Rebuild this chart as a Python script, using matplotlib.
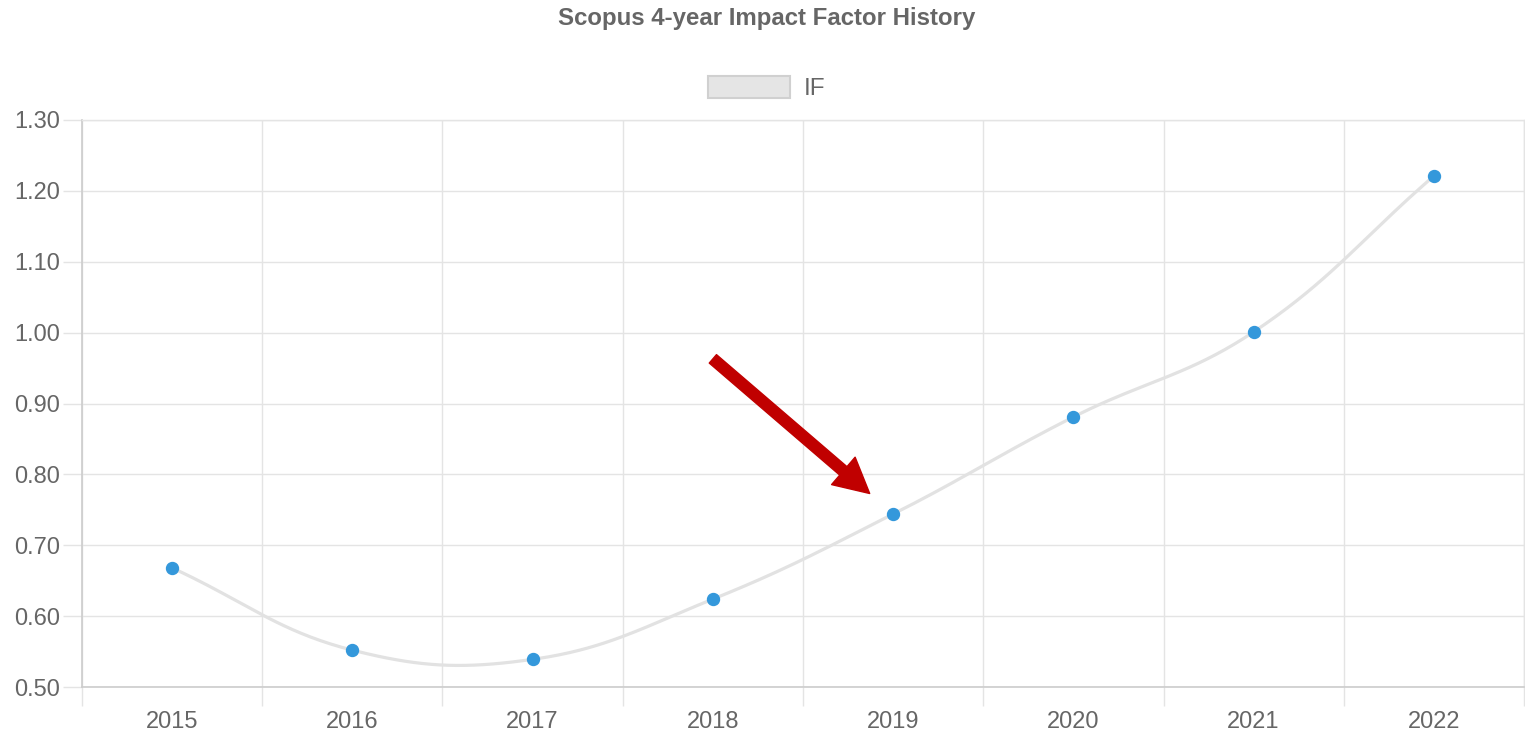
import numpy as np
import matplotlib
matplotlib.use('Agg')
import matplotlib.pyplot as plt
from matplotlib.patches import Patch

# data
years = ['2015', '2016', '2017', '2018', '2019', '2020', '2021', '2022']
impact = [0.668, 0.552, 0.539, 0.624, 0.744, 0.881, 1.001, 1.221]
y_ticks = [0.50, 0.60, 0.70, 0.80, 0.90, 1.00, 1.10, 1.20, 1.30]

# red call-out arrow (category index, value)
arrow_tail = (3.0, 0.963)
arrow_tip = (3.87, 0.773)

plt.rcParams['font.family'] = ['Liberation Sans', 'DejaVu Sans']
text_grey = '#666666'
grid_grey = '#e4e4e4'
axis_grey = '#cccccc'

W, H = 1525, 734
fig = plt.figure(figsize=(W / 100, H / 100), dpi=100)
ax = fig.add_axes([82 / W, 1 - 687 / H, (1524 - 82) / W, (687 - 120) / H])

x = np.arange(len(years))
ax.set_xlim(-0.5, len(years) - 0.5)
ax.set_ylim(y_ticks[0], y_ticks[-1])


def chartjs_spline(ax, xs, ys, tension=0.4, n=40):
    # same bezier control points as Chart.js line tension, done in pixel space
    pts = ax.transData.transform(np.column_stack([xs, ys]))
    ctrl = []
    for i in range(len(pts)):
        prev = pts[max(i - 1, 0)]
        cur = pts[i]
        nxt = pts[min(i + 1, len(pts) - 1)]
        d01 = np.hypot(*(cur - prev))
        d12 = np.hypot(*(nxt - cur))
        tot = d01 + d12
        s01 = d01 / tot if tot else 0
        s12 = d12 / tot if tot else 0
        ctrl.append((cur - tension * s01 * (nxt - prev),
                     cur + tension * s12 * (nxt - prev)))
    t = np.linspace(0, 1, n)[:, None]
    curve = [pts[:1]]
    for i in range(len(pts) - 1):
        p0, p1, p2, p3 = pts[i], ctrl[i][1], ctrl[i + 1][0], pts[i + 1]
        seg = ((1 - t) ** 3 * p0 + 3 * (1 - t) ** 2 * t * p1
               + 3 * (1 - t) * t ** 2 * p2 + t ** 3 * p3)
        curve.append(seg[1:])
    return ax.transData.inverted().transform(np.vstack(curve))


smooth = chartjs_spline(ax, x, impact)
ax.plot(smooth[:, 0], smooth[:, 1], color='#e2e2e2', lw=2.3, zorder=2,
        solid_capstyle='round')
ax.plot(x, impact, 'o', color='#3498db', ms=8.6, mec='#3498db', zorder=3)

# grid: vertical lines sit between categories
ax.set_xticks(x)
ax.set_xticklabels(years)
ax.set_xticks(np.arange(len(years) + 1) - 0.5, minor=True)
ax.set_yticks(y_ticks)
ax.set_yticklabels([f'{v:.2f}' for v in y_ticks])
ax.tick_params(axis='x', which='major', length=0, pad=17, labelsize=17,
               labelcolor=text_grey)
ax.tick_params(axis='x', which='minor', length=14, width=1, color=grid_grey)
ax.tick_params(axis='y', length=14, width=1, color=grid_grey, pad=2,
               labelsize=17, labelcolor=text_grey)
ax.grid(True, which='minor', axis='x', color=grid_grey, lw=1)
ax.grid(True, which='major', axis='y', color=grid_grey, lw=1)
ax.set_axisbelow(True)
for side in ['left', 'bottom']:
    ax.spines[side].set_color(axis_grey)
    ax.spines[side].set_linewidth(1.2)
for side in ['top', 'right']:
    ax.spines[side].set_color(grid_grey)
    ax.spines[side].set_linewidth(1)

ax.annotate('', xy=arrow_tip, xytext=arrow_tail,
            arrowprops=dict(arrowstyle='simple,head_length=25,head_width=26,tail_width=8',
                            mutation_scale=1, color='#c00000', shrinkA=0, shrinkB=0),
            zorder=5)

fig.text(0.5 + 4 / W, 1 - 18 / H, 'Scopus 4-year Impact Factor History', ha='center',
         va='center', fontsize=17.3, weight='bold', color=text_grey)

handle = Patch(facecolor='#e5e5e5', edgecolor='#d0d0d0', lw=1.5, label='IF')
fig.legend(handles=[handle], loc='center', bbox_to_anchor=(0.5 + 4 / W, 1 - 88 / H),
           frameon=False, fontsize=17.5, labelcolor=text_grey, handlelength=3.4,
           handleheight=1.0, handletextpad=0.55, borderaxespad=0)

fig.savefig('out.png', dpi=100)
